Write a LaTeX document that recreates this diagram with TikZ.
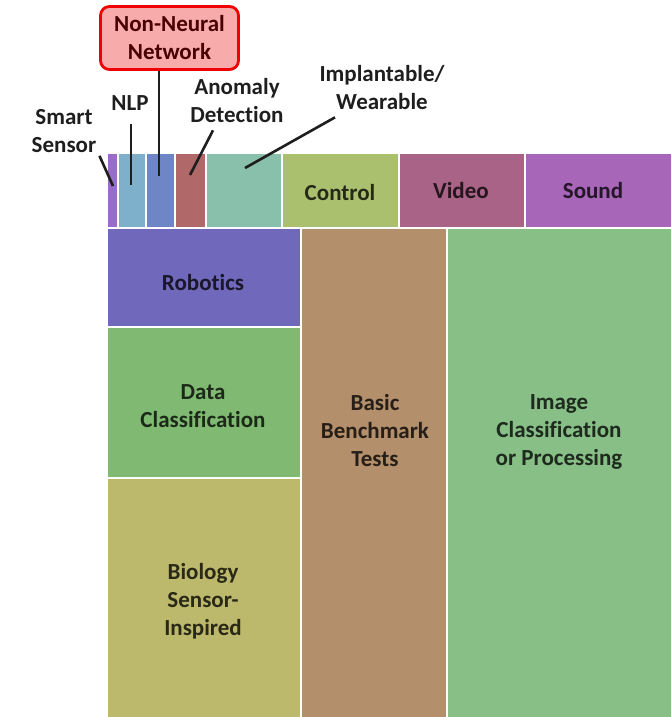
\documentclass[tikz,border=0pt]{standalone}
\usepackage{fontspec}
\setmainfont{Carlito}[RawFeature={-liga;-clig;-calt;-dlig}]
\definecolor{cSS}{HTML}{9A6BC9}
\definecolor{cNLP}{HTML}{7EB0CB}
\definecolor{cNN}{HTML}{6E85C6}
\definecolor{cAD}{HTML}{B16868}
\definecolor{cIW}{HTML}{88C0AC}
\definecolor{cCtl}{HTML}{AAC06E}
\definecolor{cVid}{HTML}{A96387}
\definecolor{cSnd}{HTML}{A866B9}
\definecolor{cRob}{HTML}{7068BA}
\definecolor{cData}{HTML}{80BA72}
\definecolor{cBio}{HTML}{BDB96C}
\definecolor{cBench}{HTML}{B38F6B}
\definecolor{cImg}{HTML}{87BF86}
\definecolor{nnfill}{HTML}{F8ABAB}
\definecolor{nnedge}{HTML}{F00000}
\definecolor{ink}{HTML}{1E1E1E}
\begin{document}
\begin{tikzpicture}[x=1pt,y=-1pt,
  cell/.style={draw=white, line width=1.8pt},
  lbl/.style={font=\bfseries\fontsize{23}{28}\selectfont, align=center, text=ink, inner sep=2pt},
  intext/.style={lbl, text=#1!22!black},
  lead/.style={draw=ink, line width=2.6pt}]
\useasboundingbox (0,0) rectangle (671,717);

% top row of small categories
\path[cell, fill=cSS]  (107,153) rectangle (118,228);
\path[cell, fill=cNLP] (118,153) rectangle (146,228);
\path[cell, fill=cNN]  (146,153) rectangle (175,228);
\path[cell, fill=cAD]  (175,153) rectangle (206,228);
\path[cell, fill=cIW]  (206,153) rectangle (282,228);
\path[cell, fill=cCtl] (282,153) rectangle (399,228);
\path[cell, fill=cVid] (399,153) rectangle (525,228);
\path[cell, fill=cSnd] (525,153) rectangle (673,228);

% large categories
\path[cell, fill=cRob]   (107,228) rectangle (301,327);
\path[cell, fill=cData]  (107,327) rectangle (301,478);
\path[cell, fill=cBio]   (107,478) rectangle (301,719);
\path[cell, fill=cBench] (301,228) rectangle (447,719);
\path[cell, fill=cImg]   (447,228) rectangle (673,719);

% texts inside the cells
\node[intext=cCtl]   (ctl)   at (340,193) {Control};
\node[intext=cVid]   (vid)   at (461,191) {Video};
\node[intext=cSnd]   (snd)   at (593,191) {Sound};
\node[intext=cRob]   (rob)   at (203,283) {Robotics};
\node[intext=cData]  (data)  at (203,406) {Data\\Classification};
\node[intext=cBio]   (bio)   at (203,601) {Biology\\Sensor-\\Inspired};
\node[intext=cBench] (bench) at (375,431) {Basic\\Benchmark\\Tests};
\node[intext=cImg]   (img)   at (559,432) {Image\\Classification\\or Processing};

% callout labels for the narrow cells
\node[lbl] (ss)  at (64,131)  {Smart\\Sensor};
\node[lbl] (nlp) at (130,103) {NLP};
\node[lbl] (ad)  at (237,101) {Anomaly\\Detection};
\node[lbl] (iw)  at (382,88)  {Implantable/\\Wearable};
\node[lbl, text=nnedge!30!black, draw=nnedge, line width=2.8pt, fill=nnfill, rounded corners=9pt,
      minimum width=138pt, minimum height=63pt] (nn) at (169.5,38) {Non-Neural\\Network};

% end points of the leader lines
\coordinate (ssend)  at (113,186);
\coordinate (nlpend) at (131,185);
\coordinate (nnend)  at (159,176);
\coordinate (adend)  at (190,175);
\coordinate (iwend)  at (245,168);

\draw[lead] ([xshift=1pt,yshift=-1pt]ss.south east) -- (ssend);
\draw[lead] ([xshift=1pt,yshift=-11pt]nlp.south) -- (nlpend);
\draw[lead] (nn.south -| nnend) -- (nnend);
\draw[lead] ([xshift=-24pt,yshift=-5pt]ad.south) -- (adend);
\draw[lead] ([xshift=-47pt,yshift=-5pt]iw.south) -- (iwend);
\end{tikzpicture}
\end{document}
